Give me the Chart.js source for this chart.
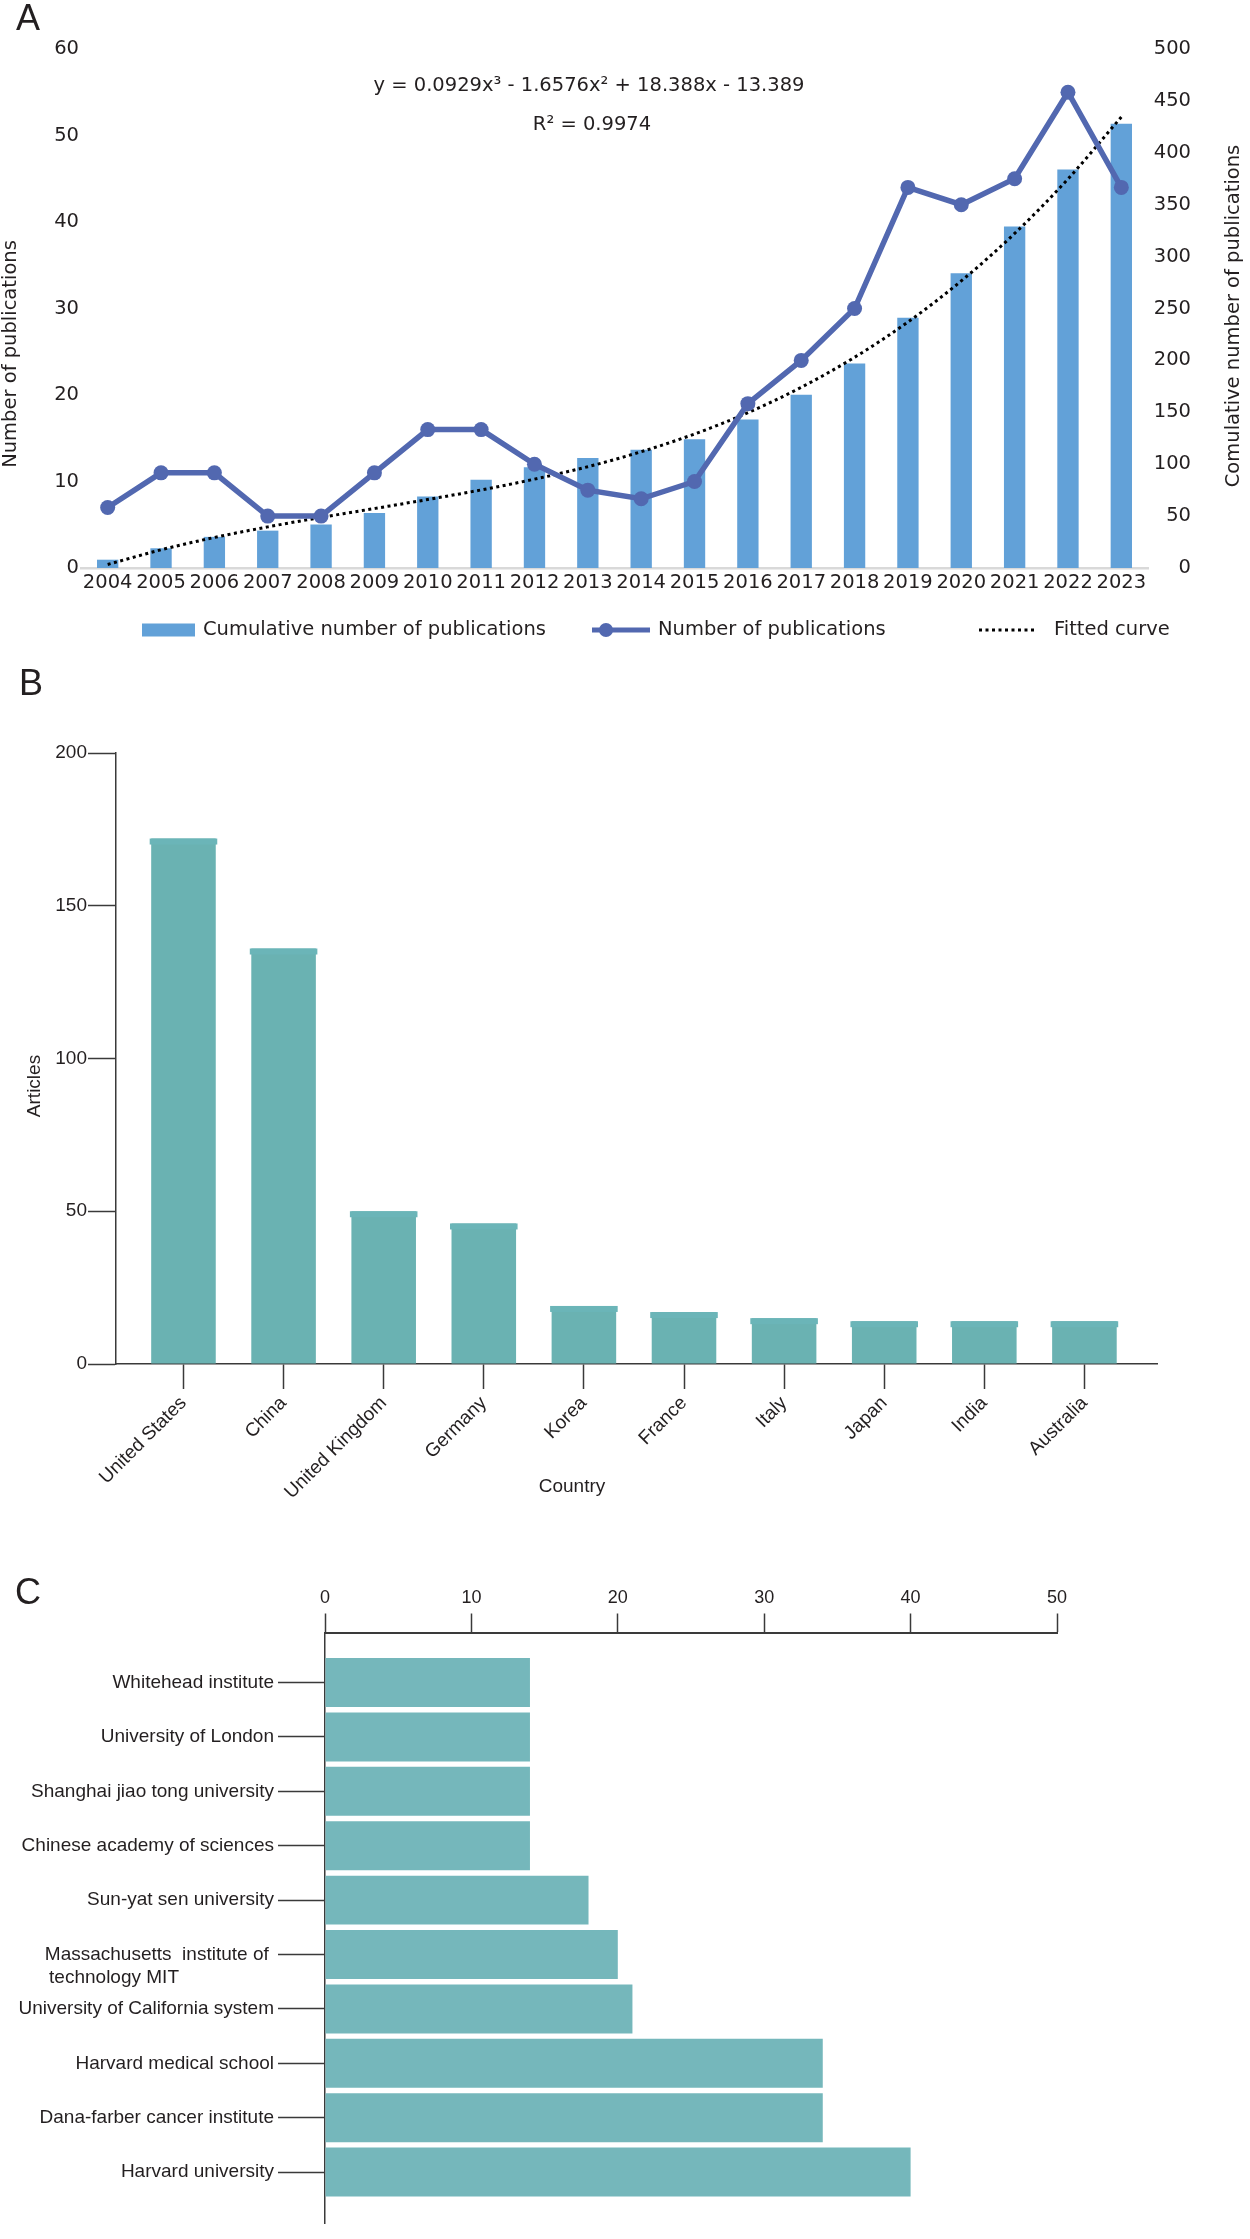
<!DOCTYPE html>
<html>
<head>
<meta charset="utf-8">
<script src="https://cdn.jsdelivr.net/npm/chart.js@4.4.1/dist/chart.umd.min.js"></script>
<style>
html, body { margin: 0; padding: 0; background: #ffffff; }
body { width: 1250px; height: 2239px; position: relative; overflow: hidden; }
.panel { position: absolute; left: 0; width: 1250px; }
</style>
</head>
<body>
<div class="panel" style="top:0px;height:640px"><canvas id="chartA"></canvas></div>
<div class="panel" style="top:640px;height:900px"><canvas id="chartB"></canvas></div>
<div class="panel" style="top:1540px;height:699px"><canvas id="chartC"></canvas></div>
<script>
// ---------- data (panel A) ----------
const years = ['2004','2005','2006','2007','2008','2009','2010','2011','2012','2013',
               '2014','2015','2016','2017','2018','2019','2020','2021','2022','2023'];
const publications = [7, 11, 11, 6, 6, 11, 16, 16, 12, 9, 8, 10, 19, 24, 30, 44, 42, 45, 55, 44];
const cumulative = [8, 19, 30, 36, 42, 53, 69, 85, 97, 106, 114, 124, 143, 167, 197, 241, 284, 329, 384, 428];
const fittedCurve = [3.4, 17.5, 29.4, 39.6, 48.7, 57.3, 66.0, 75.2, 85.6, 97.6,
                     112.0, 129.1, 149.6, 174.1, 203.0, 237.0, 276.6, 322.3, 374.8, 434.5];

// ---------- data (panel B) ----------
const countries = ['United States', 'China', 'United Kingdom', 'Germany', 'Korea',
                   'France', 'Italy', 'Japan', 'India', 'Australia'];
const articles = [172, 136, 50, 46, 19, 17, 15, 14, 14, 14];

// ---------- data (panel C) ----------
const institutions = ['Whitehead institute', 'University of London', 'Shanghai jiao tong university',
                      'Chinese academy of sciences', 'Sun-yat sen university',
                      ['Massachusetts  institute of ', 'technology MIT'],
                      'University of California system', 'Harvard medical school',
                      'Dana-farber cancer institute', 'Harvard university'];
const institutionArticles = [14, 14, 14, 14, 18, 20, 21, 34, 34, 40];

// ---------- styling ----------
const FONT_A = '"DejaVu Sans", sans-serif';
const FONT_BC = '"Liberation Sans", Arial, sans-serif';
const INK = '#231f20';
const AXIS = '#3a3a3a';

Chart.defaults.font.family = FONT_BC;
Chart.defaults.color = INK;
Chart.defaults.animation = false;

// free text / legend drawing plugin
const annot = {
  id: 'annot',
  afterDraw(chart, args, opts) {
    const items = (opts && opts.items) || [];
    const ctx = chart.ctx;
    items.forEach(it => {
      ctx.save();
      if (it.type === 'text') {
        ctx.font = it.font;
        ctx.fillStyle = it.color || INK;
        ctx.textAlign = it.align || 'center';
        ctx.textBaseline = it.baseline || 'middle';
        ctx.translate(it.x, it.y);
        if (it.rotate) ctx.rotate(it.rotate);
        ctx.fillText(it.text, 0, 0);
      } else if (it.type === 'rect') {
        ctx.fillStyle = it.color;
        ctx.fillRect(it.x, it.y, it.w, it.h);
      } else if (it.type === 'line') {
        ctx.strokeStyle = it.color;
        ctx.lineWidth = it.width;
        if (it.dash) ctx.setLineDash(it.dash);
        ctx.beginPath();
        ctx.moveTo(it.x1, it.y);
        ctx.lineTo(it.x2, it.y);
        ctx.stroke();
      } else if (it.type === 'circle') {
        ctx.fillStyle = it.color;
        ctx.beginPath();
        ctx.arc(it.x, it.y, it.r, 0, Math.PI * 2);
        ctx.fill();
      }
      ctx.restore();
    });
  }
};

// top caps on the country bars (uses the bar elements placed by the library)
const barCaps = {
  id: 'barCaps',
  afterDatasetsDraw(chart, args, opts) {
    if (!opts || !opts.color) return;
    const ctx = chart.ctx;
    ctx.save();
    ctx.fillStyle = opts.color;
    chart.getDatasetMeta(0).data.forEach(el => {
      const p = el.getProps(['x', 'y', 'width'], true);
      ctx.fillRect(p.x - p.width / 2 - opts.overhang, p.y, p.width + 2 * opts.overhang, opts.height);
    });
    ctx.restore();
  }
};
Chart.register(annot, barCaps);

// ---------- Panel A ----------
const fA = (s) => s + 'px ' + FONT_A;
new Chart(document.getElementById('chartA'), {
  type: 'bar',
  data: {
    labels: years,
    datasets: [
      { type: 'line', label: 'Number of publications', data: publications, yAxisID: 'y',
        borderColor: '#5268b0', backgroundColor: '#5268b0', borderWidth: 5.5,
        pointRadius: 7.5, pointHoverRadius: 7.5, pointBackgroundColor: '#5268b0',
        pointBorderWidth: 0, tension: 0, order: 1 },
      { type: 'line', label: 'Fitted curve', data: fittedCurve, yAxisID: 'y1',
        borderColor: '#000000', borderWidth: 3, borderDash: [3, 3.5], pointRadius: 0,
        cubicInterpolationMode: 'monotone', fill: false, order: 2 },
      { type: 'bar', label: 'Cumulative number of publications', data: cumulative, yAxisID: 'y1',
        backgroundColor: '#62a1d8', barPercentage: 0.4, categoryPercentage: 1, order: 3 }
    ]
  },
  options: {
    responsive: true, maintainAspectRatio: false, animation: false,
    layout: { padding: { top: 49, right: 59, bottom: 0, left: 0 } },
    plugins: {
      legend: { display: false },
      tooltip: { enabled: false },
      annot: { items: [
        { type: 'text', text: 'A', x: 16, y: 30, align: 'left', baseline: 'alphabetic', font: '36px ' + FONT_BC },
        { type: 'text', text: 'y = 0.0929x³ - 1.6576x² + 18.388x - 13.389', x: 589, y: 86, font: fA(19.5) },
        { type: 'text', text: 'R² = 0.9974', x: 592, y: 124.5, font: fA(19.5) },
        { type: 'text', text: 'Number of publications', x: 11, y: 354, rotate: -Math.PI / 2, font: fA(19.5) },
        { type: 'text', text: 'Comulative number of publications', x: 1234, y: 316, rotate: -Math.PI / 2, font: fA(19.5) },
        { type: 'rect', x: 142, y: 623.5, w: 53, h: 13, color: '#62a1d8' },
        { type: 'text', text: 'Cumulative number of publications', x: 203, y: 630, align: 'left', font: fA(19.5) },
        { type: 'line', x1: 592, x2: 650, y: 630, width: 5, color: '#5268b0' },
        { type: 'circle', x: 606, y: 630, r: 7, color: '#5268b0' },
        { type: 'text', text: 'Number of publications', x: 658, y: 630, align: 'left', font: fA(19.5) },
        { type: 'line', x1: 979, x2: 1037, y: 630, width: 3, dash: [3, 3.5], color: '#000000' },
        { type: 'text', text: 'Fitted curve', x: 1054, y: 630, align: 'left', font: fA(19.5) }
      ] }
    },
    scales: {
      x: {
        grid: { display: false, drawTicks: false },
        border: { display: true, color: '#d9d9d9', width: 2.5 },
        ticks: { font: { family: FONT_A, size: 19.5 }, color: INK, padding: 3,
                 maxRotation: 0, minRotation: 0, autoSkip: false },
        afterFit(s) { s.height = 72; }
      },
      y: {
        position: 'left', min: 0, max: 60,
        ticks: { stepSize: 10, font: { family: FONT_A, size: 19.5 }, color: INK, padding: 2 },
        grid: { display: false, drawTicks: false },
        border: { display: false },
        afterFit(s) { s.width = 81; }
      },
      y1: {
        position: 'right', min: 0, max: 500,
        ticks: { stepSize: 50, crossAlign: 'far', font: { family: FONT_A, size: 19.5 }, color: INK, padding: 2 },
        grid: { display: false, drawTicks: false },
        border: { display: false },
        afterFit(s) { s.width = 43; }
      }
    }
  }
});

// ---------- Panel B ----------
new Chart(document.getElementById('chartB'), {
  type: 'bar',
  data: {
    datasets: [{
      label: 'Articles',
      data: countries.map((c, i) => ({ x: i, y: articles[i] })),
      backgroundColor: '#6ab2b2', barPercentage: 0.645, categoryPercentage: 1
    }]
  },
  options: {
    responsive: true, maintainAspectRatio: false, animation: false,
    layout: { padding: { top: 113, right: 93, bottom: 0, left: 0 } },
    plugins: {
      legend: { display: false },
      tooltip: { enabled: false },
      barCaps: { color: '#6bb5b8', height: 6, overhang: 1.5 },
      annot: { items: [
        { type: 'text', text: 'B', x: 19, y: 55, align: 'left', baseline: 'alphabetic', font: '36px ' + FONT_BC },
        { type: 'text', text: 'Articles', x: 35, y: 446, rotate: -Math.PI / 2, font: '19px ' + FONT_BC },
        { type: 'text', text: 'Country', x: 572, y: 847, font: '19px ' + FONT_BC }
      ] }
    },
    scales: {
      x: {
        type: 'linear', min: -0.674, max: 9.725, bounds: 'data', offset: false,
        afterBuildTicks(s) { s.ticks = countries.map((c, i) => ({ value: i })); },
        ticks: { autoSkip: false, minRotation: 45, maxRotation: 45, font: { size: 19 }, color: INK, padding: 3,
                 callback: (v) => countries[v] },
        grid: { display: true, drawOnChartArea: false, drawTicks: true, tickLength: 25,
                tickColor: AXIS, tickWidth: 1.5, offset: false, color: AXIS },
        border: { display: true, color: AXIS, width: 1.5 },
        afterFit(s) { s.height = 176; }
      },
      y: {
        min: 0, max: 200,
        ticks: { stepSize: 50, font: { size: 19 }, color: INK, padding: 1 },
        grid: { display: true, drawOnChartArea: false, drawTicks: true, tickLength: 28,
                tickColor: AXIS, tickWidth: 1.5, color: AXIS },
        border: { display: true, color: AXIS, width: 1.5 },
        afterFit(s) { s.width = 116; }
      }
    }
  }
});

// ---------- Panel C ----------
function padLines(lines, font) {
  const m = document.createElement('canvas').getContext('2d');
  m.font = font;
  const w = Math.max(...lines.map(l => m.measureText(l).width));
  return lines.map(l => {
    let s = l;
    while (m.measureText(s + ' ').width <= w + 0.5) s += ' ';
    return s;
  });
}
const instLabels = institutions.map(l => Array.isArray(l) ? [''].concat(padLines(l, '19px ' + FONT_BC)) : l);

new Chart(document.getElementById('chartC'), {
  type: 'bar',
  data: {
    datasets: [{
      label: 'Articles',
      data: institutions.map((n, i) => ({ x: institutionArticles[i], y: i })),
      backgroundColor: '#75b7bb', barPercentage: 0.9, categoryPercentage: 1
    }]
  },
  options: {
    indexAxis: 'y',
    responsive: true, maintainAspectRatio: false, animation: false,
    layout: { padding: { top: 0, right: 193, bottom: 4, left: 0 } },
    plugins: {
      legend: { display: false },
      tooltip: { enabled: false },
      annot: { items: [
        { type: 'text', text: 'C', x: 15, y: 64, align: 'left', baseline: 'alphabetic', font: '36px ' + FONT_BC }
      ] }
    },
    scales: {
      x: {
        position: 'top', min: 0, max: 50,
        ticks: { stepSize: 10, font: { size: 18 }, color: INK, padding: 5 },
        grid: { display: true, drawOnChartArea: false, drawTicks: true, tickLength: 19,
                tickColor: AXIS, tickWidth: 1.5, color: AXIS },
        border: { display: true, color: AXIS, width: 2 },
        afterFit(s) { s.height = 92.5; }
      },
      y: {
        type: 'linear', reverse: true, min: -0.92, max: 9.94, bounds: 'data', offset: false,
        afterBuildTicks(s) { s.ticks = institutions.map((n, i) => ({ value: i })); },
        ticks: { autoSkip: false, font: { size: 19, lineHeight: 1.24 }, color: INK, padding: 4,
                 callback: (v) => instLabels[v] },
        grid: { display: true, drawOnChartArea: false, drawTicks: true, tickLength: 47,
                tickColor: AXIS, tickWidth: 1.5, offset: false, color: AXIS },
        border: { display: true, color: AXIS, width: 1.5 },
        afterFit(s) { s.width = 325; }
      }
    }
  }
});
</script>
</body>
</html>
